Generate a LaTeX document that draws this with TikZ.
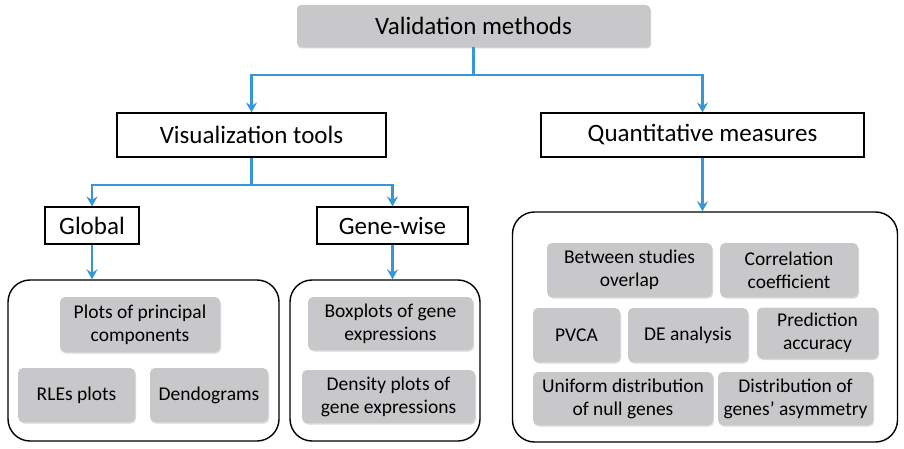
\documentclass[tikz,border=0pt]{standalone}
\usepackage{fontspec}
\setmainfont{Carlito}
\usepackage{tikz}
\usetikzlibrary{arrows.meta,shadows}
\definecolor{linkblue}{RGB}{55,150,215}
\definecolor{boxgray}{RGB}{200,200,202}
\tikzset{
	head/.style={fill=boxgray,rounded corners=4pt,drop shadow={opacity=0.35,shadow xshift=1pt,shadow yshift=-1.5pt},font=\fontsize{25}{29}\selectfont},
	branch/.style={draw=black,line width=1.1pt,fill=white,font=\fontsize{25}{29}\selectfont},
	group/.style={draw=black,line width=1.4pt,rounded corners=22pt},
	method/.style={fill=boxgray,rounded corners=5pt,align=center,inner sep=0pt,drop shadow={opacity=0.3,shadow xshift=1pt,shadow yshift=-1.5pt},font=\fontsize{19.5}{23}\selectfont},
	link/.style={draw=linkblue,line width=2.4pt,-{Stealth[length=10pt,width=11pt,inset=3.5pt]}}
}
\begin{document}
\begin{tikzpicture}[x=1pt,y=-1pt]
	\useasboundingbox (0,0) rectangle (904,449);
	\node[head,minimum width=353pt,minimum height=42pt] (valid) at (473.5,26) {Validation methods};
	\node[branch,minimum width=269pt,minimum height=44pt] (vis) at (251.5,135) {Visualization tools};
	\node[branch,minimum width=323pt,minimum height=44pt] (quant) at (702.5,135) {Quantitative measures};
	\node[branch,minimum width=94pt,minimum height=37pt] (glob) at (92,225.5) {Global};
	\node[branch,minimum width=151pt,minimum height=37pt] (gene) at (392.5,225.5) {Gene-wise};
	\node[group,minimum width=271pt,minimum height=161pt] (grpL) at (143.5,360.5) {};
	\node[group,minimum width=190pt,minimum height=161pt] (grpM) at (385,360.5) {};
	\node[group,minimum width=385pt,minimum height=230pt] (grpR) at (705,327) {};
	\node[method,minimum width=160pt,minimum height=55pt] (pca) at (140,324.5) {Plots of principal\\components};
	\node[method,minimum width=117pt,minimum height=54pt] (rle) at (76.5,395) {RLEs plots};
	\node[method,minimum width=118pt,minimum height=54pt] (dendo) at (209,395) {Dendograms};
	\node[method,minimum width=165pt,minimum height=53pt] (boxpl) at (390.5,323.5) {Boxplots of gene\\expressions};
	\node[method,minimum width=173pt,minimum height=53pt] (dens) at (388.5,396.5) {Density plots of\\gene expressions};
	\node[method,minimum width=165pt,minimum height=54pt] (overlap) at (629.5,270) {Between studies\\overlap};
	\node[method,minimum width=138pt,minimum height=54pt] (corr) at (789,270) {Correlation\\coefficient};
	\node[method,minimum width=87pt,minimum height=54pt] (pvca) at (576.5,335) {PVCA};
	\node[method,minimum width=120pt,minimum height=54pt] (deana) at (688,335) {DE analysis};
	\node[method,minimum width=121pt,minimum height=51pt] (pred) at (817.5,333) {Prediction\\accuracy};
	\node[method,minimum width=180pt,minimum height=53pt] (unif) at (623,398.5) {Uniform distribution\\of null genes};
	\node[method,minimum width=155pt,minimum height=53pt] (asym) at (795.5,398.5) {Distribution of\\genes' asymmetry};
	\coordinate (splitA) at (473.5,75);
	\coordinate (splitB) at (251.5,185);
	\draw[link] (valid.south) -- (splitA) -| (vis.north);
	\draw[link] (splitA) -| (quant.north);
	\draw[link] (vis.south) -- (splitB) -| (glob.north);
	\draw[link] (splitB) -| (gene.north);
	\draw[link] (glob.south) -- (glob.south |- grpL.north);
	\draw[link] (gene.south) -- (gene.south |- grpM.north);
	\draw[link] (quant.south) -- (quant.south |- grpR.north);
\end{tikzpicture}
\end{document}
